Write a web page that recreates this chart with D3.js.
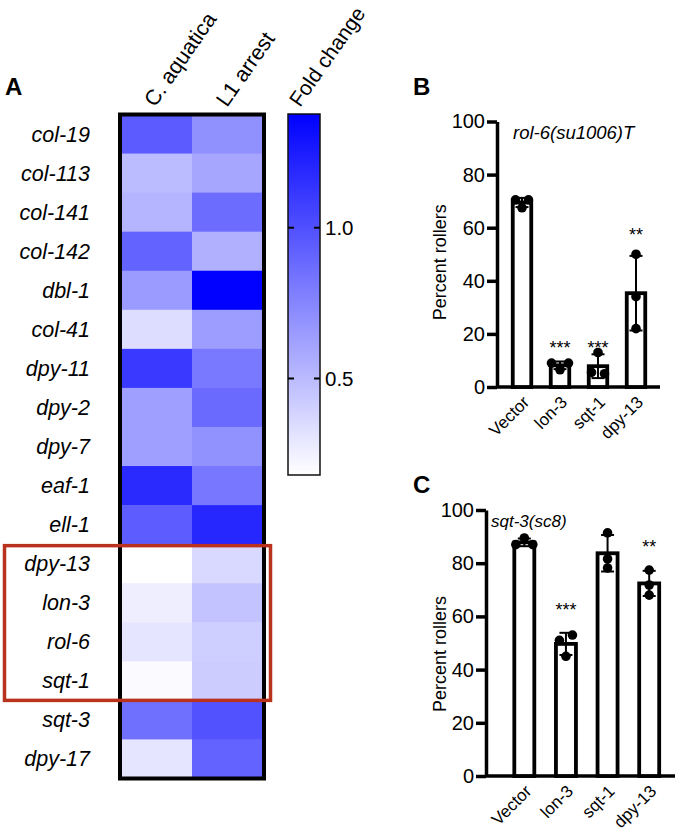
<!DOCTYPE html>
<html>
<head>
<meta charset="utf-8">
<script src="https://cdn.jsdelivr.net/npm/d3@7"></script>
<style>
  html, body { margin: 0; padding: 0; background: #ffffff; }
  svg { display: block; font-family: "Liberation Sans", Arial, Helvetica, sans-serif; }
</style>
</head>
<body>
<svg id="chart" width="677" height="840"></svg>
<script>
// ---------------- DATA ----------------
const genes = ["col-19","col-113","col-141","col-142","dbl-1","col-41","dpy-11","dpy-2","dpy-7",
               "eaf-1","ell-1","dpy-13","lon-3","rol-6","sqt-1","sqt-3","dpy-17"];
const conditions = ["C. aquatica", "L1 arrest"];
const aquaticaFC = [0.95, 0.50, 0.53, 0.91, 0.65, 0.34, 1.11, 0.63, 0.63, 1.18, 0.94, 0.18, 0.26, 0.30, 0.20, 0.85, 0.30];
const l1ArrestFC = [0.70, 0.60, 0.87, 0.55, 1.37, 0.64, 0.81, 0.88, 0.69, 0.82, 1.20, 0.36, 0.46, 0.41, 0.42, 0.99, 0.91];
const highlightedGenes = ["dpy-13", "lon-3", "rol-6", "sqt-1"];
const legendTitle = "Fold change";
const legendDomain = [0.18, 1.377];
const legendTicks = [0.5, 1.0];

const rnaiCategories = ["Vector", "lon-3", "sqt-1", "dpy-13"];
const yTickValues = [0, 20, 40, 60, 80, 100];
const rol6Points = [[70.5, 67.5, 70.5], [9, 6.5, 9], [13, 5.5, 5], [50, 34, 22]];
const rol6Signif = ["", "***", "***", "**"];
const rol6SignifAt = [null, 16.6, 16.6, 59];
const sqt3Points = [[87, 89.5, 87], [51, 53, 45], [91.4, 81.6, 78.2], [77.4, 71.8, 68]];
const sqt3Signif = ["", "***", "", "**"];
const sqt3SignifAt = [null, 64.3, null, 88];

// ---------------- DRAW ----------------
const svg = d3.select("#chart");

const panelLabel = (t, x, y) => svg.append("text").attr("x", x).attr("y", y)
  .attr("font-size", 24).attr("font-weight", "bold").text(t);
panelLabel("A", 5, 95);
panelLabel("B", 413, 95);
panelLabel("C", 413, 493);

// ---- Heatmap ----
const heatValues = [aquaticaFC, l1ArrestFC];
const hx = d3.scaleBand().domain(conditions).range([120, 264]);
const hy = d3.scaleBand().domain(genes).range([114.5, 778.5]);
const color = d3.scaleLinear().domain(legendDomain).range(["#ffffff", "#0000ff"]).clamp(true);

const cells = [];
conditions.forEach((c, ci) => genes.forEach((g, gi) => cells.push({c, g, v: heatValues[ci][gi]})));

const hm = svg.append("g");
hm.selectAll("rect.cell").data(cells).join("rect")
  .attr("class", "cell")
  .attr("x", d => hx(d.c)).attr("y", d => hy(d.g))
  .attr("width", hx.bandwidth() + 0.5).attr("height", hy.bandwidth() + 0.5)
  .attr("fill", d => color(d.v));

hm.append("rect")
  .attr("x", hx.range()[0]).attr("y", hy.range()[0])
  .attr("width", hx.range()[1] - hx.range()[0]).attr("height", hy.range()[1] - hy.range()[0])
  .attr("fill", "none").attr("stroke", "#000").attr("stroke-width", 4);

hm.selectAll("text.row").data(genes).join("text")
  .attr("class", "row")
  .attr("x", 90).attr("y", d => hy(d) + hy.bandwidth() / 2)
  .attr("dy", "0.35em")
  .attr("text-anchor", "end")
  .attr("font-size", 21.5).attr("font-style", "italic")
  .text(d => d);

hm.selectAll("text.col").data(conditions).join("text")
  .attr("class", "col")
  .attr("transform", d => `translate(${hx(d) + hx.bandwidth() / 2 - 1},108) rotate(-55)`)
  .attr("font-size", 21.5)
  .text(d => d);

const hiTop = hy(highlightedGenes[0]);
const hiBot = hy(highlightedGenes[highlightedGenes.length - 1]) + hy.bandwidth();
svg.append("rect")
  .attr("x", 4.5).attr("y", hiTop + 1.5)
  .attr("width", 266).attr("height", hiBot - hiTop - 1.5)
  .attr("fill", "none").attr("stroke", "#b8321e").attr("stroke-width", 3.5);

// ---- Legend ----
const lx0 = 288, lx1 = 320;
const ly = d3.scaleLinear().domain(legendDomain).range([475, 114]);
const defs = svg.append("defs");
const grad = defs.append("linearGradient").attr("id", "fcgrad")
  .attr("x1", 0).attr("y1", 1).attr("x2", 0).attr("y2", 0);
d3.range(0, 1.0001, 0.1).forEach(t => {
  const v = legendDomain[0] + t * (legendDomain[1] - legendDomain[0]);
  grad.append("stop").attr("offset", t).attr("stop-color", color(v));
});
svg.append("rect").attr("x", lx0).attr("y", ly(legendDomain[1]))
  .attr("width", lx1 - lx0).attr("height", ly(legendDomain[0]) - ly(legendDomain[1]))
  .attr("fill", "url(#fcgrad)").attr("stroke", "#111").attr("stroke-width", 1.5);
const lt = svg.append("g").selectAll("g").data(legendTicks).join("g")
  .attr("transform", d => `translate(0,${ly(d)})`);
lt.append("line").attr("x1", lx0).attr("x2", lx0 + 6).attr("stroke", "#000").attr("stroke-width", 2);
lt.append("line").attr("x1", lx1 - 6).attr("x2", lx1).attr("stroke", "#000").attr("stroke-width", 2);
lt.append("text").attr("x", lx1 + 5).attr("dy", "0.36em").attr("font-size", 20.5)
  .text(d => d.toFixed(1));
svg.append("text")
  .attr("transform", `translate(${(lx0 + lx1) / 2 - 4},108) rotate(-55)`)
  .attr("font-size", 21).text(legendTitle);

// ---- Bar panels ----
function spreadOffsets(vals) {
  const idx = vals.map((v, i) => i).sort((a, b) => vals[a] - vals[b]);
  const clusters = [];
  idx.forEach(i => {
    const last = clusters[clusters.length - 1];
    if (last && Math.abs(vals[i] - vals[last[last.length - 1]]) < 3) last.push(i);
    else clusters.push([i]);
  });
  const off = vals.map(() => 0);
  clusters.forEach(cl => {
    const n = cl.length;
    const step = n === 2 ? 13 : 8.5;
    cl.slice().sort((a, b) => a - b).forEach((i, k) => { off[i] = (k - (n - 1) / 2) * step; });
  });
  return off;
}

function barPanel(cfg) {
  const g = svg.append("g");
  const y = d3.scaleLinear().domain([0, 100]).range([cfg.y0, cfg.y100]);
  const x = d3.scaleBand().domain(rnaiCategories).range(cfg.bandRange).padding(0);

  const stats = cfg.points.map((p, i) => {
    const m = d3.mean(p), s = d3.deviation(p);
    return {cat: rnaiCategories[i], mean: m, sd: s, pts: p, off: spreadOffsets(p),
            sig: cfg.signif[i], sigAt: cfg.signifAt[i]};
  });

  const ya = g.append("g").attr("transform", `translate(${cfg.axisX},0)`)
    .call(d3.axisLeft(y).tickValues(yTickValues).tickSize(10).tickSizeOuter(0).tickPadding(2));
  ya.select(".domain").attr("stroke-width", 3.5);
  ya.selectAll(".tick line").attr("stroke-width", 3.5);
  ya.selectAll(".tick text").attr("font-size", 20).attr("font-family", "Liberation Sans, Arial, sans-serif").attr("fill", "#000");

  const xa = g.append("g").attr("transform", `translate(0,${cfg.y0})`)
    .call(d3.axisBottom(x).tickSize(0).tickPadding(0));
  xa.select(".domain").attr("d", `M${cfg.axisX},0H${cfg.axisEnd}`).attr("stroke-width", 3.5);
  xa.selectAll(".tick text")
    .attr("font-size", 17).attr("font-family", "Liberation Sans, Arial, sans-serif").attr("fill", "#000")
    .attr("text-anchor", "end")
    .attr("transform", "translate(4,12) rotate(-45)")
    .attr("dy", "0.35em").attr("y", 0);

  const bw = cfg.barW;
  g.selectAll("rect.bar").data(stats).join("rect").attr("class", "bar")
    .attr("x", d => x(d.cat) + x.bandwidth() / 2 - bw / 2)
    .attr("y", d => y(d.mean))
    .attr("width", bw).attr("height", d => y(0) - y(d.mean))
    .attr("fill", "#fff").attr("stroke", "#000").attr("stroke-width", 3.8);

  const eb = g.selectAll("g.err").data(stats).join("g").attr("class", "err")
    .attr("transform", d => `translate(${x(d.cat) + x.bandwidth() / 2},0)`);
  eb.append("line").attr("y1", d => y(d.mean + d.sd)).attr("y2", d => y(d.mean - d.sd))
    .attr("stroke", "#000").attr("stroke-width", 2);
  eb.append("line").attr("x1", -6.5).attr("x2", 6.5)
    .attr("y1", d => y(d.mean + d.sd)).attr("y2", d => y(d.mean + d.sd))
    .attr("stroke", "#000").attr("stroke-width", 2);
  eb.append("line").attr("x1", -6.5).attr("x2", 6.5)
    .attr("y1", d => y(d.mean - d.sd)).attr("y2", d => y(d.mean - d.sd))
    .attr("stroke", "#000").attr("stroke-width", 2);

  eb.selectAll("circle").data(d => d.pts.map((v, i) => ({v, o: d.off[i]}))).join("circle")
    .attr("cx", d => d.o).attr("cy", d => y(d.v)).attr("r", 4.8).attr("fill", "#000");

  g.selectAll("text.sig").data(stats.filter(d => d.sig)).join("text").attr("class", "sig")
    .attr("x", d => x(d.cat) + x.bandwidth() / 2).attr("y", d => y(d.sigAt))
    .attr("dy", "0.6em")
    .attr("text-anchor", "middle").attr("font-size", 18).text(d => d.sig);

  g.append("text").attr("transform", `translate(${cfg.titleX},${(cfg.y0 + cfg.y100) / 2 + cfg.titleDY}) rotate(-90)`)
    .attr("text-anchor", "middle").attr("font-size", 18).text("Percent rollers");

  g.append("text").attr("x", cfg.headX).attr("y", cfg.headY)
    .attr("font-size", cfg.headSize).attr("font-style", "italic").text(cfg.head);
}

barPanel({
  points: rol6Points, signif: rol6Signif, signifAt: rol6SignifAt,
  y0: 387, y100: 121.5, axisX: 497, axisEnd: 660, bandRange: [503, 655], barW: 18.5,
  titleX: 446, titleDY: 8, head: "rol-6(su1006)T", headX: 513, headY: 139, headSize: 18.5
});
barPanel({
  points: sqt3Points, signif: sqt3Signif, signifAt: sqt3SignifAt,
  y0: 776, y100: 510, axisX: 486, axisEnd: 675, bandRange: [503.5, 670], barW: 20,
  titleX: 446, titleDY: 11, head: "sqt-3(sc8)", headX: 491, headY: 527, headSize: 17
});
</script>
</body>
</html>
